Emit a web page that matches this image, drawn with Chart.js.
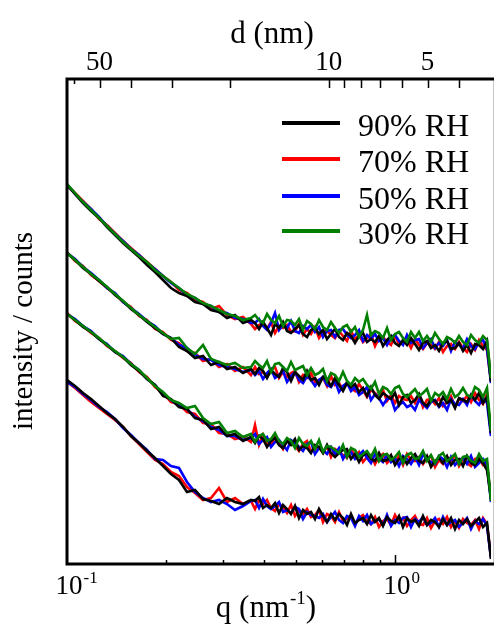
<!DOCTYPE html>
<html>
<head>
    <title>SAXS intensity vs q</title>
    <script src="https://cdn.jsdelivr.net/npm/chart.js"></script>
    <style>
        body { margin: 0; background: #fff; }
        canvas { display: block; }
    </style>
</head>
<body>
    <canvas id="saxsChart" width="494" height="625"></canvas>

    <script>
        // q in nm^-1 (log axis)
        const q = [
            0.100, 0.1058, 0.1119, 0.1184, 0.1252, 0.1324, 0.1401, 0.1482, 0.1567, 0.1658,
            0.1754, 0.1855, 0.1962, 0.2075, 0.2195, 0.2322, 0.2456, 0.2598, 0.2748, 0.2907,
            0.3075, 0.3252, 0.3440, 0.3639,
            0.3743, 0.3850, 0.3959, 0.4072, 0.4188, 0.4307, 0.4430, 0.4556, 0.4686, 0.4819,
            0.4956, 0.5097, 0.5243, 0.5392, 0.5545, 0.5703, 0.5866, 0.6033, 0.6205, 0.6381,
            0.6563, 0.6750, 0.6942, 0.7140, 0.7343, 0.7552, 0.7768, 0.7989, 0.8216, 0.8450,
            0.8691, 0.8938, 0.9193, 0.9455, 0.9724, 1.0000, 1.0285, 1.0578, 1.0879, 1.1189,
            1.1508, 1.1836, 1.2173, 1.2520, 1.2876, 1.3243, 1.3620, 1.4008, 1.4407, 1.4817,
            1.5239, 1.5673, 1.6120, 1.6579, 1.7051, 1.7537, 1.8037, 1.8550, 1.9079,
            1.962
        ];

        // top axis: d = 2*pi/q (nm)
        const dTicks = [60, 50, 40, 30, 20, 10, 9, 8, 7, 6, 5, 4];
        const dLabels = [50, 10, 5];
        const qMinor = [0.2, 0.3, 0.4, 0.5, 0.6, 0.7, 0.8, 0.9];

        const legendNames = ['90% RH', '70% RH', '50% RH', '30% RH'];
        const colors = ['#000000', '#ff0000', '#0000ff', '#008000'];

        // intensity, offset log units (stacked sets, top to bottom)
        const set1_90 = [
            379,370,361,353,346,337,329,321,314,307, 299,292,284,276,271,268,262,260,254,252, 246,249,241,244,
            241,235,242,236,229,240,236,242,233,231,
            235,239,230,227,234,236,230,234,225,230,
            235,227,224,231,228,221,228,231,222,225,
            222,228,218,224,228,221,218,224,219,226,
            220,214,221,223,216,219,213,221,223,215,
            216,221,213,219,211,220,219,215,223,
            182
        ];
        const set1_70 = [
            379,371,363,355,345,339,331,323,316,309, 302,295,288,282,274,271,264,262,255,258, 249,245,247,240,
            235,239,241,235,242,231,238,236,239,232,
            233,240,229,235,230,237,226,232,233,229,
            226,233,228,223,233,225,229,222,226,230,
            218,226,227,222,219,228,220,221,224,216,
            225,219,215,221,219,215,222,212,218,220,
            215,222,216,212,220,214,224,218,214,
            183
        ];
        const set1_50 = [
            380,370,362,355,347,338,330,323,315,309, 301,295,288,281,276,269,266,260,258,252, 251,246,245,241,
            241,245,238,234,241,251,234,239,236,243,
            233,231,238,235,239,232,237,227,233,234,
            227,234,235,229,226,229,234,223,229,225,
            230,223,226,219,227,229,223,219,229,221,
            224,225,216,221,225,216,221,218,224,213,
            222,219,216,225,218,215,222,224,215,
            181
        ];
        const set1_30 = [
            380,371,362,354,346,338,330,322,315,308, 302,294,288,282,276,270,266,261,258,254, 250,248,244,246,
            249,244,241,250,244,241,248,238,244,243,
            239,245,234,243,240,235,244,237,234,242,
            236,231,237,239,232,237,227,234,249,229,
            233,231,226,236,224,230,232,226,222,232,
            226,232,223,228,222,231,225,220,227,225,
            221,228,222,219,229,224,221,228,224,
            186
        ];

        const set2_90 = [
            311,304,296,290,283,277,269,263,255,249, 242,236,230,226,217,213,206,208,199,202, 195,197,191,195,
            190,196,193,186,194,190,187,196,192,183,
            192,188,184,193,184,186,179,187,184,178,
            186,179,173,181,177,180,172,176,168,177,
            169,165,171,168,165,171,159,167,169,161,
            164,170,161,158,165,163,158,167,161,164,
            156,166,164,162,169,164,171,161,167,
            131
        ];
        const set2_70 = [
            312,303,298,289,283,276,270,262,257,248, 244,235,232,224,221,213,211,203,205,197, 200,193,197,189,
            197,190,192,187,194,197,186,192,187,191,
            193,182,189,186,191,182,184,186,178,188,
            179,181,174,182,176,173,180,174,167,174,
            171,167,174,163,169,161,168,165,164,168,
            161,169,157,164,165,160,166,158,162,168,
            157,165,163,168,162,171,164,160,170,
            130
        ];
        const set2_50 = [
            311,305,297,291,284,276,271,262,256,250, 243,238,230,226,219,216,209,205,204,199, 197,195,192,194,
            189,193,185,191,195,186,189,193,182,188,
            192,184,181,188,184,178,184,187,179,177,
            183,172,178,181,173,177,169,172,177,164,
            170,166,159,165,166,154,159,162,157,159,
            154,164,160,156,162,164,157,161,154,165,
            160,159,165,159,169,163,159,166,161,
            128
        ];
        const set2_30 = [
            311,304,297,290,284,277,270,263,256,249, 243,237,231,225,226,216,210,219,205,202, 199,201,196,197,
            203,199,196,203,192,200,201,197,193,202,
            194,196,198,189,196,189,191,195,183,191,
            189,183,192,183,179,186,182,185,179,175,
            182,170,177,175,170,176,178,170,167,171,
            175,168,171,175,163,171,168,172,165,175,
            167,170,176,169,167,177,174,167,176,
            133
        ];

        const set3_90 = [
            250,244,237,232,225,219,212,207,199,193, 185,179,168,165,157,155,146,144,135,137, 128,130,123,127,
            121,128,125,117,123,126,119,116,123,119,
            125,114,118,116,111,119,117,111,119,111,
            107,111,114,115,105,110,102,109,111,105,
            103,111,103,104,109,99,105,107,100,106,
            110,103,101,108,97,103,106,101,108,99,
            104,105,98,108,101,99,105,101,94,
            66
        ];
        const set3_70 = [
            251,243,238,231,226,218,213,206,201,192, 187,177,171,162,160,152,150,141,140,131, 130,125,127,122,
            139,119,129,121,119,127,121,115,124,121,
            118,113,120,123,112,115,117,111,118,107,
            115,112,109,106,115,108,112,102,107,109,
            100,107,110,101,105,102,108,99,110,104,
            103,107,100,106,108,97,104,100,107,103,
            109,98,105,101,98,105,106,99,101,
            65
        ];
        const set3_50 = [
            250,245,238,233,225,220,212,208,200,194, 185,179,170,164,158,155,147,143,137,134, 128,128,124,126,
            130,120,124,127,117,122,124,119,114,124,
            121,117,113,120,122,110,116,114,110,117,
            110,116,105,112,112,105,109,113,106,101,
            110,105,102,109,102,106,98,108,105,100,
            107,99,110,104,102,100,108,105,97,107,
            99,104,106,100,108,97,101,105,99,
            62
        ];
        const set3_30 = [
            250,244,238,232,226,219,213,207,200,194, 186,178,172,164,161,156,158,146,140,142, 131,133,127,130,
            122,128,130,123,125,131,123,120,126,123,
            116,126,120,118,123,115,124,112,118,117,
            114,111,119,107,116,114,107,110,113,107,
            115,103,109,110,104,107,112,101,109,111,
            105,106,113,103,109,101,108,111,103,106,
            110,100,107,108,103,101,110,103,105,
            63
        ];

        const set4_90 = [
            184,178,171,165,158,151,145,137,128,121, 113,106,98,90,84,72,74,65,63,60, 66,62,60,64,
            63,67,56,59,56,61,51,59,55,50,
            58,46,54,50,52,45,55,48,42,50,
            44,50,46,39,50,41,44,46,40,49,
            42,46,38,47,43,41,48,37,46,42,
            44,38,48,39,44,42,37,45,39,46,
            35,44,40,45,38,42,46,37,41,
            5
        ];
        const set4_70 = [
            182,176,169,162,156,150,144,137,128,120, 112,104,100,92,88,77,71,64,66,76, 62,66,60,63,
            55,64,60,64,56,53,60,57,51,59,
            48,54,50,55,47,49,54,42,50,48,
            42,52,43,45,48,39,46,49,43,40,
            47,37,43,45,39,49,42,46,38,44,
            48,40,39,46,36,43,45,40,47,37,
            43,36,45,41,39,44,35,46,40,
            7
        ];
        const set4_50 = [
            182,177,170,164,157,152,145,136,129,121, 114,105,104,98,96,82,72,66,62,64, 60,54,58,63,
            64,56,65,58,55,58,62,52,54,51,
            57,55,45,52,49,48,46,50,42,47,
            52,44,41,48,46,38,48,43,49,40,
            43,45,39,49,38,44,41,46,47,37,
            45,42,47,39,41,46,37,47,39,42,
            44,37,41,46,35,43,40,45,38,
            6
        ];

        const serif = "'Liberation Serif', 'Times New Roman', serif";

        // green on top, then black, blue, red (lower order = drawn later)
        const drawOrder = [1, 3, 2, 0];
        function series(values, k) {
            return {
                data: values.map((v, i) => ({ x: q[i], y: v })),
                borderColor: colors[k],
                borderWidth: 2.6,
                pointRadius: 0,
                tension: 0,
                fill: false,
                order: drawOrder[k]
            };
        }

        const datasets = [
            series(set1_90, 0), series(set1_70, 1), series(set1_50, 2), series(set1_30, 3),
            series(set2_90, 0), series(set2_70, 1), series(set2_50, 2), series(set2_30, 3),
            series(set3_90, 0), series(set3_70, 1), series(set3_50, 2), series(set3_30, 3),
            series(set4_90, 0), series(set4_70, 1), series(set4_50, 2)
        ];

        // base text + raised exponent, returns total width
        function supText(c, base, sup, x, y, size, measureOnly) {
            c.font = size + 'px ' + serif;
            const w1 = c.measureText(base).width;
            c.font = Math.round(size * 0.62) + 'px ' + serif;
            const w2 = c.measureText(sup).width;
            if (!measureOnly) {
                c.font = size + 'px ' + serif;
                c.fillText(base, x, y);
                c.font = Math.round(size * 0.62) + 'px ' + serif;
                c.fillText(sup, x + w1 + 1, y - size * 0.42);
            }
            return w1 + w2 + 1;
        }

        const framePlugin = {
            id: 'frame',
            afterDatasetsDraw(chart) {
                const c = chart.ctx;
                const a = chart.chartArea;
                const xs = chart.scales.x;
                c.save();
                c.fillStyle = '#000';

                // faint right edge
                c.lineWidth = 1;
                c.strokeStyle = '#c8c8c8';
                c.beginPath(); c.moveTo(493.5, a.top); c.lineTo(493.5, a.bottom); c.stroke();

                // frame
                c.strokeStyle = '#000';
                c.lineWidth = 3;
                c.beginPath();
                c.moveTo(494, a.top); c.lineTo(a.left, a.top);
                c.lineTo(a.left, a.bottom); c.lineTo(494, a.bottom);
                c.stroke();

                // inward ticks: top (d), bottom (q)
                c.lineWidth = 1.5;
                c.beginPath();
                dTicks.forEach(d => {
                    const px = Math.round(xs.getPixelForValue(2 * Math.PI / d)) + 0.5;
                    const len = d === 60 ? 5 : 9;
                    c.moveTo(px, a.top); c.lineTo(px, a.top + len);
                });
                qMinor.forEach(v => {
                    const px = Math.round(xs.getPixelForValue(v)) + 0.5;
                    c.moveTo(px, a.bottom); c.lineTo(px, a.bottom - 4);
                });
                const p1 = Math.round(xs.getPixelForValue(1)) + 0.5;
                c.moveTo(p1, a.bottom); c.lineTo(p1, a.bottom - 9);
                c.stroke();

                // top tick labels + title
                c.textAlign = 'center';
                c.textBaseline = 'alphabetic';
                c.font = '27px ' + serif;
                dLabels.forEach(d => {
                    c.fillText(String(d), xs.getPixelForValue(2 * Math.PI / d), 70);
                });
                c.font = '31px ' + serif;
                c.fillText('d (nm)', 272, 43);

                // bottom tick labels 10^-1, 10^0
                c.textAlign = 'left';
                [[0.1, '-1'], [1, '0']].forEach(([v, e]) => {
                    c.font = '27px ' + serif;
                    const w = c.measureText('10').width;
                    const px = xs.getPixelForValue(v);
                    supText(c, '10', e, px - w / 2 + 2, 594, 27);
                });

                // bottom title q (nm^-1)
                const tw = supText(c, 'q (nm', '-1', 0, 0, 31, true);
                c.font = '31px ' + serif;
                const tw2 = c.measureText(')').width;
                const tx = 266 - (tw + tw2) / 2;
                const w0 = supText(c, 'q (nm', '-1', tx, 617, 31);
                c.font = '31px ' + serif;
                c.fillText(')', tx + w0, 617);

                // y title
                c.save();
                c.translate(32, 331);
                c.rotate(-Math.PI / 2);
                c.textAlign = 'center';
                c.font = '29px ' + serif;
                c.fillText('intensity / counts', 0, 0);
                c.restore();

                // legend
                const rows = [123, 159, 196, 231];
                c.lineWidth = 4;
                c.textAlign = 'left';
                c.font = '32px ' + serif;
                rows.forEach((ry, k) => {
                    c.strokeStyle = colors[k];
                    c.beginPath(); c.moveTo(282, ry); c.lineTo(340, ry); c.stroke();
                    c.fillStyle = '#000';
                    c.fillText(legendNames[k], 358, ry + 13);
                });
                c.restore();
            }
        };

        const ctx = document.getElementById('saxsChart').getContext('2d');
        const chart = new Chart(ctx, {
            type: 'line',
            data: { datasets: datasets },
            options: {
                responsive: false,
                animation: false,
                layout: { padding: { left: 67, right: 3, top: 79, bottom: 61 } },
                plugins: { legend: { display: false }, tooltip: { enabled: false } },
                scales: {
                    x: { type: 'logarithmic', min: 0.1, max: 1.962, display: false },
                    y: { type: 'linear', min: 0, max: 485, display: false }
                }
            },
            plugins: [framePlugin]
        });
    </script>
</body>
</html>
